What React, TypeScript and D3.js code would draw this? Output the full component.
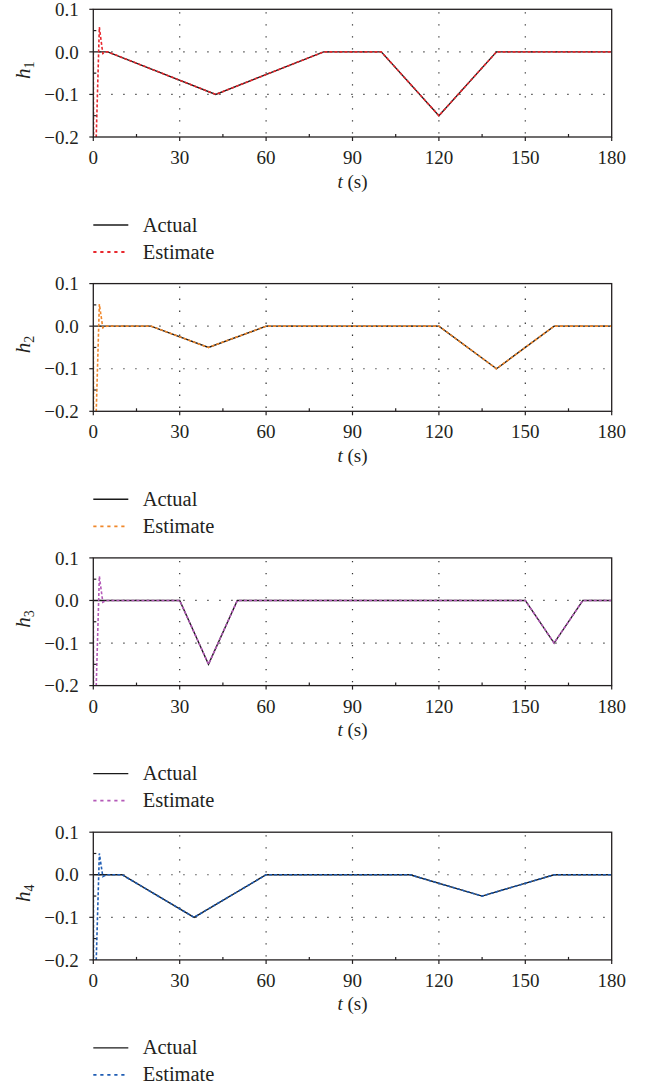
import React from "react";
import * as d3 from "d3";

// ---------- data ----------
const xTicks = [0, 30, 60, 90, 120, 150, 180];
const xMinorTicks = [15, 45, 75, 105, 135, 165];
const yTicks = [0.1, 0.0, -0.1, -0.2];
const yTickLabels = ["0.1", "0.0", "\u22120.1", "\u22120.2"];
const yMinorTicks = [0.05, -0.05, -0.15];
const gridX = [30, 60, 90, 120, 150];
const gridY = [0.0, -0.1];

const h1ActualT = [0, 5, 42.5, 80, 100, 120, 140, 180];
const h1ActualV = [0, 0, -0.1, 0, 0, -0.15, 0, 0];
const h1EstimateT = [0, 0.15, 0.85, 2.1, 3.3, 4.5, 5, 42.5, 80, 100, 120, 140, 180];
const h1EstimateV = [0, -0.3, -0.24, 0.058, -0.004, 0, 0, -0.1, 0, 0, -0.15, 0, 0];

const h2ActualT = [0, 20, 40, 60, 120, 140, 160, 180];
const h2ActualV = [0, 0, -0.05, 0, 0, -0.1, 0, 0];
const h2EstimateT = [0, 0.15, 0.85, 2.1, 3.3, 4.5, 20, 40, 60, 120, 140, 160, 180];
const h2EstimateV = [0, -0.3, -0.24, 0.052, -0.004, 0, 0, -0.05, 0, 0, -0.1, 0, 0];

const h3ActualT = [0, 30, 40, 50, 150, 160, 170, 180];
const h3ActualV = [0, 0, -0.15, 0, 0, -0.1, 0, 0];
const h3EstimateT = [0, 0.15, 0.85, 2.1, 3.3, 4.5, 30, 40, 50, 150, 160, 170, 180];
const h3EstimateV = [0, -0.3, -0.24, 0.057, -0.004, 0, 0, -0.15, 0, 0, -0.1, 0, 0];

const h4ActualT = [0, 10, 35, 60, 110, 135, 160, 180];
const h4ActualV = [0, 0, -0.1, 0, 0, -0.05, 0, 0];
const h4EstimateT = [0, 0.15, 0.85, 2.1, 3.3, 4.5, 10, 35, 60, 110, 135, 160, 180];
const h4EstimateV = [0, -0.3, -0.24, 0.05, -0.004, 0, 0, -0.1, 0, 0, -0.05, 0, 0];

const panelSubscripts = ["1", "2", "3", "4"];
const estimateColors = ["#e8282e", "#f0872a", "#b45ab8", "#1f5db4"];

const panels = [
  { sub: panelSubscripts[0], color: estimateColors[0], aT: h1ActualT, aV: h1ActualV, eT: h1EstimateT, eV: h1EstimateV },
  { sub: panelSubscripts[1], color: estimateColors[1], aT: h2ActualT, aV: h2ActualV, eT: h2EstimateT, eV: h2EstimateV },
  { sub: panelSubscripts[2], color: estimateColors[2], aT: h3ActualT, aV: h3ActualV, eT: h3EstimateT, eV: h3EstimateV },
  { sub: panelSubscripts[3], color: estimateColors[3], aT: h4ActualT, aV: h4ActualV, eT: h4EstimateT, eV: h4EstimateV },
];

// ---------- layout ----------
const W = 651;
const H = 1089;
const LEFT = 93.3;
const RIGHT = 611.7;
const TOP0 = 9.3;
const PANEL_STEP = 274.3;
const PANEL_H = 127.7;
const FONT = "'Liberation Serif', 'Times New Roman', serif";
const AXIS_COLOR = "#231f20";

const x = d3.scaleLinear().domain([0, 180]).range([LEFT, RIGHT]);

function Panel({ p, i }: { p: any; i: number }) {
  const top = TOP0 + i * PANEL_STEP;
  const bottom = top + PANEL_H;
  const y = d3.scaleLinear().domain([-0.2, 0.1]).range([bottom, top]);
  const line = d3
    .line<[number, number]>()
    .x((d) => x(d[0]))
    .y((d) => y(d[1]));
  const actual: [number, number][] = p.aT.map((t: number, k: number) => [t, p.aV[k]]);
  const estimate: [number, number][] = p.eT.map((t: number, k: number) => [t, p.eV[k]]);
  const clipId = `clip-${i}`;
  const legY = bottom + 88;
  const legY2 = legY + 27;
  return (
    <g>
      <defs>
        <clipPath id={clipId}>
          <rect x={LEFT} y={top} width={RIGHT - LEFT} height={PANEL_H} />
        </clipPath>
      </defs>
      {/* grid */}
      {gridX.map((g) => (
        <line key={"gx" + g} x1={x(g)} x2={x(g)} y1={top} y2={bottom} stroke="#333" strokeWidth={1.2} strokeDasharray="1.3,10.7" strokeDashoffset={-3} />
      ))}
      {gridY.map((g) => (
        <line key={"gy" + g} x1={LEFT} x2={RIGHT} y1={y(g)} y2={y(g)} stroke="#333" strokeWidth={1.2} strokeDasharray="1.3,10.7" strokeDashoffset={-6} />
      ))}
      {/* lines */}
      <g clipPath={`url(#${clipId})`}>
        <path d={line(actual) || ""} fill="none" stroke="#1a1a1a" strokeWidth={1.4} />
        <path d={line(estimate) || ""} fill="none" stroke={p.color} strokeWidth={1.6} strokeDasharray="3,2" />
      </g>
      {/* frame */}
      <rect x={LEFT} y={top} width={RIGHT - LEFT} height={PANEL_H} fill="none" stroke={AXIS_COLOR} strokeWidth={1.3} />
      {/* x ticks */}
      {xTicks.map((t) => (
        <line key={"xt" + t} x1={x(t)} x2={x(t)} y1={bottom} y2={bottom + 4} stroke={AXIS_COLOR} strokeWidth={1.2} />
      ))}
      {xMinorTicks.map((t) => (
        <line key={"xm" + t} x1={x(t)} x2={x(t)} y1={bottom} y2={bottom - 3} stroke={AXIS_COLOR} strokeWidth={1.2} />
      ))}
      {xTicks.map((t) => (
        <text key={"xl" + t} x={x(t)} y={bottom + 27} textAnchor="middle" fontFamily={FONT} fontSize={19} fill="#231f20">
          {t}
        </text>
      ))}
      {/* y ticks */}
      {yTicks.map((v) => (
        <line key={"yt" + v} x1={LEFT - 4} x2={LEFT} y1={y(v)} y2={y(v)} stroke={AXIS_COLOR} strokeWidth={1.2} />
      ))}
      {yMinorTicks.map((v) => (
        <line key={"ym" + v} x1={LEFT} x2={LEFT + 3} y1={y(v)} y2={y(v)} stroke={AXIS_COLOR} strokeWidth={1.2} />
      ))}
      {yTicks.map((v, k) => (
        <text key={"yl" + v} x={LEFT - 14.5} y={y(v)} dy="0.35em" textAnchor="end" fontFamily={FONT} fontSize={19} fill="#231f20">
          {yTickLabels[k]}
        </text>
      ))}
      {/* axis titles */}
      <text x={(LEFT + RIGHT) / 2} y={bottom + 50.5} textAnchor="middle" fontFamily={FONT} fontSize={19} fill="#231f20">
        <tspan fontStyle="italic">t</tspan>
        <tspan> (s)</tspan>
      </text>
      <text transform={`translate(29.5, ${top + 61}) rotate(-90)`} textAnchor="middle" fontFamily={FONT} fontSize={21} fill="#231f20">
        <tspan fontStyle="italic">h</tspan>
        <tspan fontSize={14} dy={4}>{p.sub}</tspan>
      </text>
      {/* legend */}
      <line x1={93.3} x2={128.3} y1={legY} y2={legY} stroke="#1a1a1a" strokeWidth={1.4} />
      <text x={142.7} y={legY + 6.5} fontFamily={FONT} fontSize={20.5} fill="#231f20">
        Actual
      </text>
      <line x1={93.3} x2={128.3} y1={legY2} y2={legY2} stroke={p.color} strokeWidth={1.8} strokeDasharray="3.2,3.8" />
      <text x={142.7} y={legY2 + 6.5} fontFamily={FONT} fontSize={20.5} fill="#231f20">
        Estimate
      </text>
    </g>
  );
}

export default function App() {
  return (
    <svg width={W} height={H} style={{ position: "absolute", left: 0, top: 0, background: "#fff" }}>
      <rect x={0} y={0} width={W} height={H} fill="#fff" />
      {panels.map((p, i) => (
        <Panel key={i} p={p} i={i} />
      ))}
    </svg>
  );
}
